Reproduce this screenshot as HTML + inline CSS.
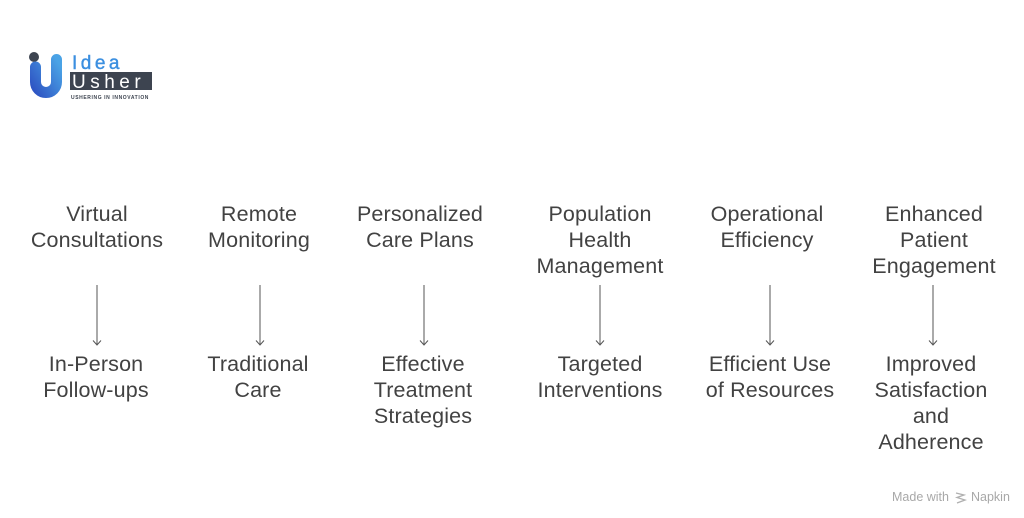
<!DOCTYPE html>
<html><head><meta charset="utf-8"><style>
html,body{margin:0;padding:0;background:#fff;}
body{width:1024px;height:518px;position:relative;overflow:hidden;font-family:"Liberation Sans",Arial,sans-serif;}
.t{position:absolute;width:200px;text-align:center;font-size:21.5px;letter-spacing:0.15px;line-height:26px;color:#424242;white-space:nowrap;}
.mw{position:absolute;left:892px;top:490px;font-size:12.5px;color:#a8a8a8;line-height:14px;white-space:nowrap;}
</style></head><body>
<svg width="1024" height="518" style="position:absolute;left:0;top:0">
  <defs>
    <linearGradient id="g" x1="0" y1="1" x2="1" y2="0">
      <stop offset="0" stop-color="#2f56c4"/>
      <stop offset="1" stop-color="#4aa3e6"/>
    </linearGradient>
  </defs>
  <circle cx="34" cy="57" r="5" fill="#3d4450"/>
  <path d="M35.5 67 V82 A10.5 10.5 0 0 0 56.5 82 V59.5" fill="none" stroke="url(#g)" stroke-width="11" stroke-linecap="round"/>
  <text x="72" y="69" font-family="Liberation Sans, sans-serif" font-size="19" fill="#3b8fe0" letter-spacing="3.5" stroke="#3b8fe0" stroke-width="0.4">Idea</text>
  <rect x="70" y="72" width="82" height="18" fill="#3d4450"/>
  <text x="72" y="88" font-family="Liberation Sans, sans-serif" font-size="19" fill="#fff" letter-spacing="4.5">Usher</text>
  <text x="71" y="99" font-family="Liberation Sans, sans-serif" font-size="5" font-weight="bold" fill="#3d4450" letter-spacing="0.6">USHERING IN INNOVATION</text>
  <g stroke="#555" stroke-width="1" fill="none">
    <path d="M97 285 V345 M93 340.5 L97 345 L101 340.5"/>
    <path d="M260 285 V345 M256 340.5 L260 345 L264 340.5"/>
    <path d="M424 285 V345 M420 340.5 L424 345 L428 340.5"/>
    <path d="M600 285 V345 M596 340.5 L600 345 L604 340.5"/>
    <path d="M770 285 V345 M766 340.5 L770 345 L774 340.5"/>
    <path d="M933 285 V345 M929 340.5 L933 345 L937 340.5"/>
  </g>
  <g fill="none" stroke="#b0b0b0" stroke-width="1.3">
    <path d="M956 493 L964 495 L957 497.5 L965 500 L957 503"/>
  </g>
</svg>
<div class="t" style="left:-3px;top:201px">Virtual<br>Consultations</div>
<div class="t" style="left:159px;top:201px">Remote<br>Monitoring</div>
<div class="t" style="left:320px;top:201px">Personalized<br>Care Plans</div>
<div class="t" style="left:500px;top:201px">Population<br>Health<br>Management</div>
<div class="t" style="left:667px;top:201px">Operational<br>Efficiency</div>
<div class="t" style="left:834px;top:201px">Enhanced<br>Patient<br>Engagement</div>

<div class="t" style="left:-4px;top:351px">In-Person<br>Follow-ups</div>
<div class="t" style="left:158px;top:351px">Traditional<br>Care</div>
<div class="t" style="left:323px;top:351px">Effective<br>Treatment<br>Strategies</div>
<div class="t" style="left:500px;top:351px">Targeted<br>Interventions</div>
<div class="t" style="left:670px;top:351px">Efficient Use<br>of Resources</div>
<div class="t" style="left:831px;top:351px">Improved<br>Satisfaction<br>and<br>Adherence</div>

<div class="mw">Made with<span style="display:inline-block;width:22px"></span>Napkin</div>
</body></html>
